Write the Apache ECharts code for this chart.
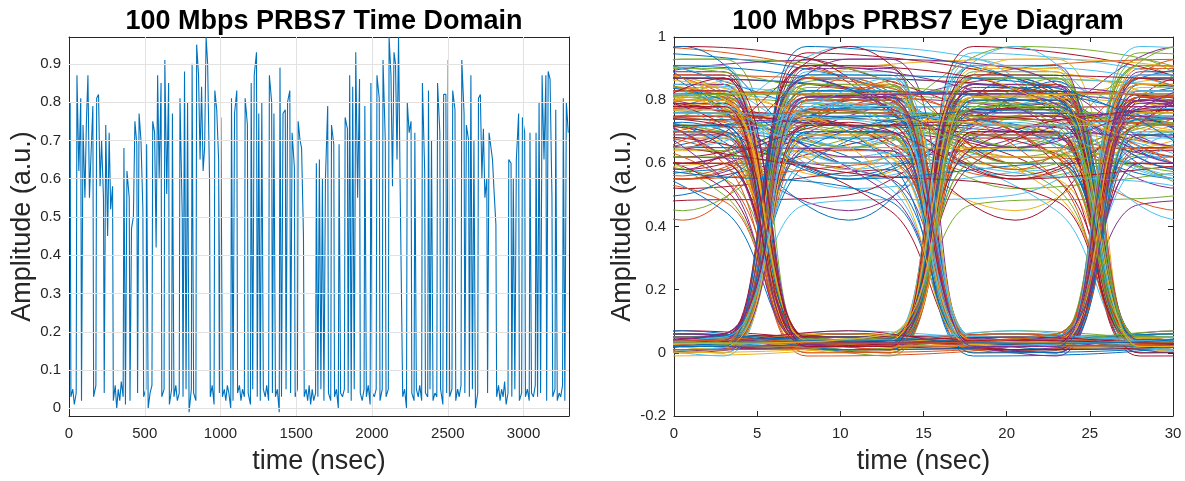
<!DOCTYPE html>
<html>
<head>
<meta charset="utf-8">
<script src="https://cdn.jsdelivr.net/npm/echarts@6/dist/echarts.min.js"></script>
<style>html,body{margin:0;padding:0;background:#fff}#c{width:1185px;height:481px}</style>
</head>
<body>
<div id="c"></div>
<script>
// ---- data ----
const bitPeriodNs = 10; // 100 Mbps
// amplitude of each bit, 330 bits = 3300 ns
const bitLevels = [
  0.80, 0.03, 0.05, 0.01, 0.04, 0.87, 0.62, 0.81, 0.02, 0.74,
  0.55, 0.75, 0.87, 0.55, 0.66, 0.79, 0.03, 0.06, 0.81, 0.82,
  0.58, 0.70, 0.55, 0.04, 0.74, 0.45, 0.72, 0.52, 0.58, 0.02,
  0.06, 0.00, 0.05, 0.02, 0.07, 0.03, 0.68, 0.01, 0.62, 0.55,
  0.02, 0.47, 0.50, 0.75, 0.69, 0.04, 0.77, 0.70, 0.52, 0.03,
  0.05, 0.69, 0.00, 0.04, 0.06, 0.75, 0.72, 0.42, 0.87, 0.60,
  0.85, 0.03, 0.05, 0.91, 0.56, 0.85, 0.01, 0.05, 0.77, 0.03,
  0.06, 0.02, 0.04, 0.81, 0.50, 0.03, 0.88, 0.05, 0.80, -0.01,
  0.05, 0.90, 0.04, 0.02, 0.95, 0.87, 0.65, 0.84, 0.62, 0.68,
  0.97, 0.90, 0.60, 0.03, 0.06, 0.01, 0.83, 0.78, 0.65, 0.04,
  0.76, 0.03, 0.05, 0.02, 0.06, 0.04, 0.00, 0.81, 0.02, 0.77,
  0.83, 0.04, 0.06, 0.02, 0.05, 0.03, 0.81, 0.74, 0.04, 0.01,
  0.85, 0.05, 0.87, 0.93, 0.03, 0.77, 0.02, 0.80, 0.05, 0.03,
  0.06, 0.02, 0.87, 0.80, 0.04, 0.77, 0.03, 0.05, -0.01, 0.89,
  0.03, 0.77, 0.78, 0.05, 0.80, 0.83, 0.04, 0.72, 0.63, 0.03,
  0.05, 0.75, 0.70, 0.68, 0.45, 0.03, 0.05, 0.02, 0.06, 0.01,
  0.05, 0.02, 0.04, 0.64, 0.03, 0.65, 0.05, 0.60, 0.02, 0.60,
  0.79, 0.04, 0.02, 0.74, 0.69, 0.03, 0.05, 0.00, 0.69, 0.04,
  0.03, 0.05, 0.76, 0.73, 0.04, 0.87, 0.02, 0.84, 0.05, 0.93,
  0.55, 0.86, 0.04, 0.02, 0.05, 0.79, 0.03, 0.06, 0.01, 0.85,
  0.04, 0.03, 0.05, 0.87, 0.81, 0.02, 0.05, 0.91, 0.70, 0.03,
  0.05, 0.97, 0.87, 0.58, 0.93, 0.90, 0.65, 0.97, 0.60, 0.60,
  0.03, 0.05, 0.00, 0.80, 0.72, 0.75, 0.04, 0.02, 0.72, 0.05,
  0.03, 0.06, 0.02, 0.85, 0.62, 0.04, 0.03, 0.83, 0.05, 0.70,
  0.02, 0.04, 0.03, 0.85, 0.72, 0.05, 0.01, 0.82, 0.82, 0.04,
  0.91, 0.03, 0.05, 0.83, 0.78, 0.02, 0.05, 0.03, 0.06, 0.91,
  0.77, 0.04, 0.74, 0.70, 0.03, 0.87, 0.05, 0.70, 0.00, 0.04,
  0.81, 0.82, 0.60, 0.73, 0.55, 0.60, 0.04, 0.72, 0.72, 0.65,
  0.57, 0.48, 0.03, 0.06, 0.02, 0.05, 0.03, 0.07, 0.01, 0.04,
  0.65, 0.64, 0.03, 0.60, 0.05, 0.65, 0.77, 0.02, 0.04, 0.76,
  0.72, 0.03, 0.05, 0.02, 0.72, 0.04, 0.03, 0.06, 0.72, 0.03,
  0.80, 0.04, 0.87, 0.65, 0.87, 0.02, 0.88, 0.86, 0.55, 0.03,
  0.05, 0.78, 0.02, 0.04, 0.03, 0.06, 0.81, 0.02, 0.80, 0.72
];
const eyeBitsPerTrace = 3;      // eye window = 3 bit periods (30 ns)
const timeXTicks = [0, 500, 1000, 1500, 2000, 2500, 3000];
const timeYTicks = [0, 0.1, 0.2, 0.3, 0.4, 0.5, 0.6, 0.7, 0.8, 0.9];
const eyeXTicks = [0, 5, 10, 15, 20, 25, 30];
const eyeYTicks = [-0.2, 0, 0.2, 0.4, 0.6, 0.8, 1];
const titles = ['100 Mbps PRBS7 Time Domain', '100 Mbps PRBS7 Eye Diagram'];
const xName = 'time (nsec)';
const yName = 'Amplitude (a.u.)';
const lineColors = ['#0072BD', '#D95319', '#EDB120', '#7E2F8E', '#77AC30', '#4DBEEE', '#A2142F'];

// ---- waveform: place each bit's level as a vertex (edges between differing bits) ----
const edgeHalf = 2.5;
const isHigh = v => v > 0.3;
const waveform = [];
bitLevels.forEach((v, i) => {
  const c = i * bitPeriodNs + bitPeriodNs / 2;
  const prevDiff = i > 0 && isHigh(bitLevels[i - 1]) !== isHigh(v);
  const nextDiff = i < bitLevels.length - 1 && isHigh(bitLevels[i + 1]) !== isHigh(v);
  if (prevDiff) waveform.push([c - edgeHalf, v]);
  if (!prevDiff && !nextDiff) waveform.push([c, v]);
  if (nextDiff) waveform.push([c + edgeHalf, v]);
});

// ---- chart ----
const font = '"Liberation Sans", Arial, sans-serif';
const ink = '#262626';
const gridColor = '#e2e2e2';

const chart = echarts.init(document.getElementById('c'), null, {renderer: 'canvas'});

// eye traces: the same waveform folded into 30 ns windows (one window per bit)
const eyeSeries = [];
const eyeSpan = eyeBitsPerTrace * bitPeriodNs;
for (let k = 1; k + eyeBitsPerTrace < bitLevels.length - 1; k++) {
  const x0 = k * bitPeriodNs + bitPeriodNs / 2 - 0.5; // bit k centre -> 0.5 ns
  let a = waveform.findIndex(p => p[0] >= x0);
  let b = a;
  while (b < waveform.length && waveform[b][0] <= x0 + eyeSpan) b++;
  a = Math.max(0, a - 2);
  b = Math.min(waveform.length, b + 2);
  const pts = waveform.slice(a, b).map(p => [p[0] - x0, p[1]]);
  eyeSeries.push({
    type: 'line', xAxisIndex: 2, yAxisIndex: 2, data: pts,
    showSymbol: false, smooth: 0.35, silent: true, animation: false, clip: true,
    lineStyle: {width: 1, color: lineColors[k % lineColors.length]},
    z: 2
  });
}

function fmt(v) { return String(Math.round(v * 1000) / 1000); }

const axisLineCfg = {show: true, onZero: false, lineStyle: {color: ink, width: 1}};
const tickCfg = {show: true, inside: true, length: 5, lineStyle: {color: ink}};
const labelCfg = {color: ink, fontSize: 15, fontFamily: font};
const nameCfg = {color: ink, fontSize: 27, fontFamily: font};

const option = {
  animation: false,
  backgroundColor: '#fff',
  title: [
    {text: titles[0], left: 319, top: 3, textAlign: 'center',
     textStyle: {fontSize: 27, fontWeight: 'bold', color: '#000', fontFamily: font}},
    {text: titles[1], left: 923, top: 3, textAlign: 'center',
     textStyle: {fontSize: 27, fontWeight: 'bold', color: '#000', fontFamily: font}}
  ],
  grid: [
    {left: 69, top: 37, width: 500, height: 379},
    {left: 674, top: 37, width: 499, height: 379}
  ],
  xAxis: [
    {gridIndex: 0, type: 'value', min: 0, max: 3300, position: 'bottom',
     axisLine: axisLineCfg, axisTick: Object.assign({customValues: timeXTicks}, tickCfg),
     axisLabel: Object.assign({customValues: timeXTicks, margin: 10, formatter: fmt}, labelCfg),
     splitLine: {show: false},
     name: xName, nameLocation: 'middle', nameGap: 32, nameTextStyle: nameCfg},
    {gridIndex: 0, type: 'value', min: 0, max: 3300, position: 'top',
     axisLine: axisLineCfg, axisTick: Object.assign({customValues: timeXTicks}, tickCfg),
     axisLabel: {show: false}, splitLine: {show: false}},
    {gridIndex: 1, type: 'value', min: 0, max: 30, position: 'bottom',
     axisLine: axisLineCfg, axisTick: Object.assign({customValues: eyeXTicks}, tickCfg),
     axisLabel: Object.assign({customValues: eyeXTicks, margin: 10, formatter: fmt}, labelCfg),
     splitLine: {show: false},
     name: xName, nameLocation: 'middle', nameGap: 32, nameTextStyle: nameCfg},
    {gridIndex: 1, type: 'value', min: 0, max: 30, position: 'top',
     axisLine: axisLineCfg, axisTick: Object.assign({customValues: eyeXTicks}, tickCfg),
     axisLabel: {show: false}, splitLine: {show: false}}
  ],
  yAxis: [
    {gridIndex: 0, type: 'value', min: -0.02, max: 0.97, position: 'left',
     axisLine: axisLineCfg, axisTick: Object.assign({customValues: timeYTicks}, tickCfg),
     axisLabel: Object.assign({customValues: timeYTicks, margin: 8, formatter: fmt}, labelCfg),
     splitLine: {show: false},
     name: yName, nameLocation: 'middle', nameGap: 30, nameRotate: 90, nameTextStyle: nameCfg},
    {gridIndex: 0, type: 'value', min: -0.02, max: 0.97, position: 'right',
     axisLine: axisLineCfg, axisTick: Object.assign({customValues: timeYTicks}, tickCfg),
     axisLabel: {show: false}, splitLine: {show: false}},
    {gridIndex: 1, type: 'value', min: -0.2, max: 1, position: 'left',
     axisLine: axisLineCfg, axisTick: Object.assign({customValues: eyeYTicks}, tickCfg),
     axisLabel: Object.assign({customValues: eyeYTicks, margin: 8, formatter: fmt}, labelCfg),
     splitLine: {show: false},
     name: yName, nameLocation: 'middle', nameGap: 32, nameRotate: 90, nameTextStyle: nameCfg},
    {gridIndex: 1, type: 'value', min: -0.2, max: 1, position: 'right',
     axisLine: axisLineCfg, axisTick: Object.assign({customValues: eyeYTicks}, tickCfg),
     axisLabel: {show: false}, splitLine: {show: false}}
  ],
  series: [
    // grid lines of the time-domain panel
    {type: 'line', xAxisIndex: 0, yAxisIndex: 0, data: [], silent: true, z: 1,
     markLine: {silent: true, symbol: ['none', 'none'], label: {show: false}, animation: false,
       lineStyle: {color: gridColor, type: 'solid', width: 1},
       data: timeYTicks.map(v => ({yAxis: v})).concat(timeXTicks.slice(1).map(v => ({xAxis: v})))}},
    {type: 'line', xAxisIndex: 0, yAxisIndex: 0, data: waveform,
     showSymbol: false, silent: true, z: 3,
     lineStyle: {width: 1.1, color: lineColors[0]}}
  ].concat(eyeSeries)
};
chart.setOption(option);
</script>
</body>
</html>
